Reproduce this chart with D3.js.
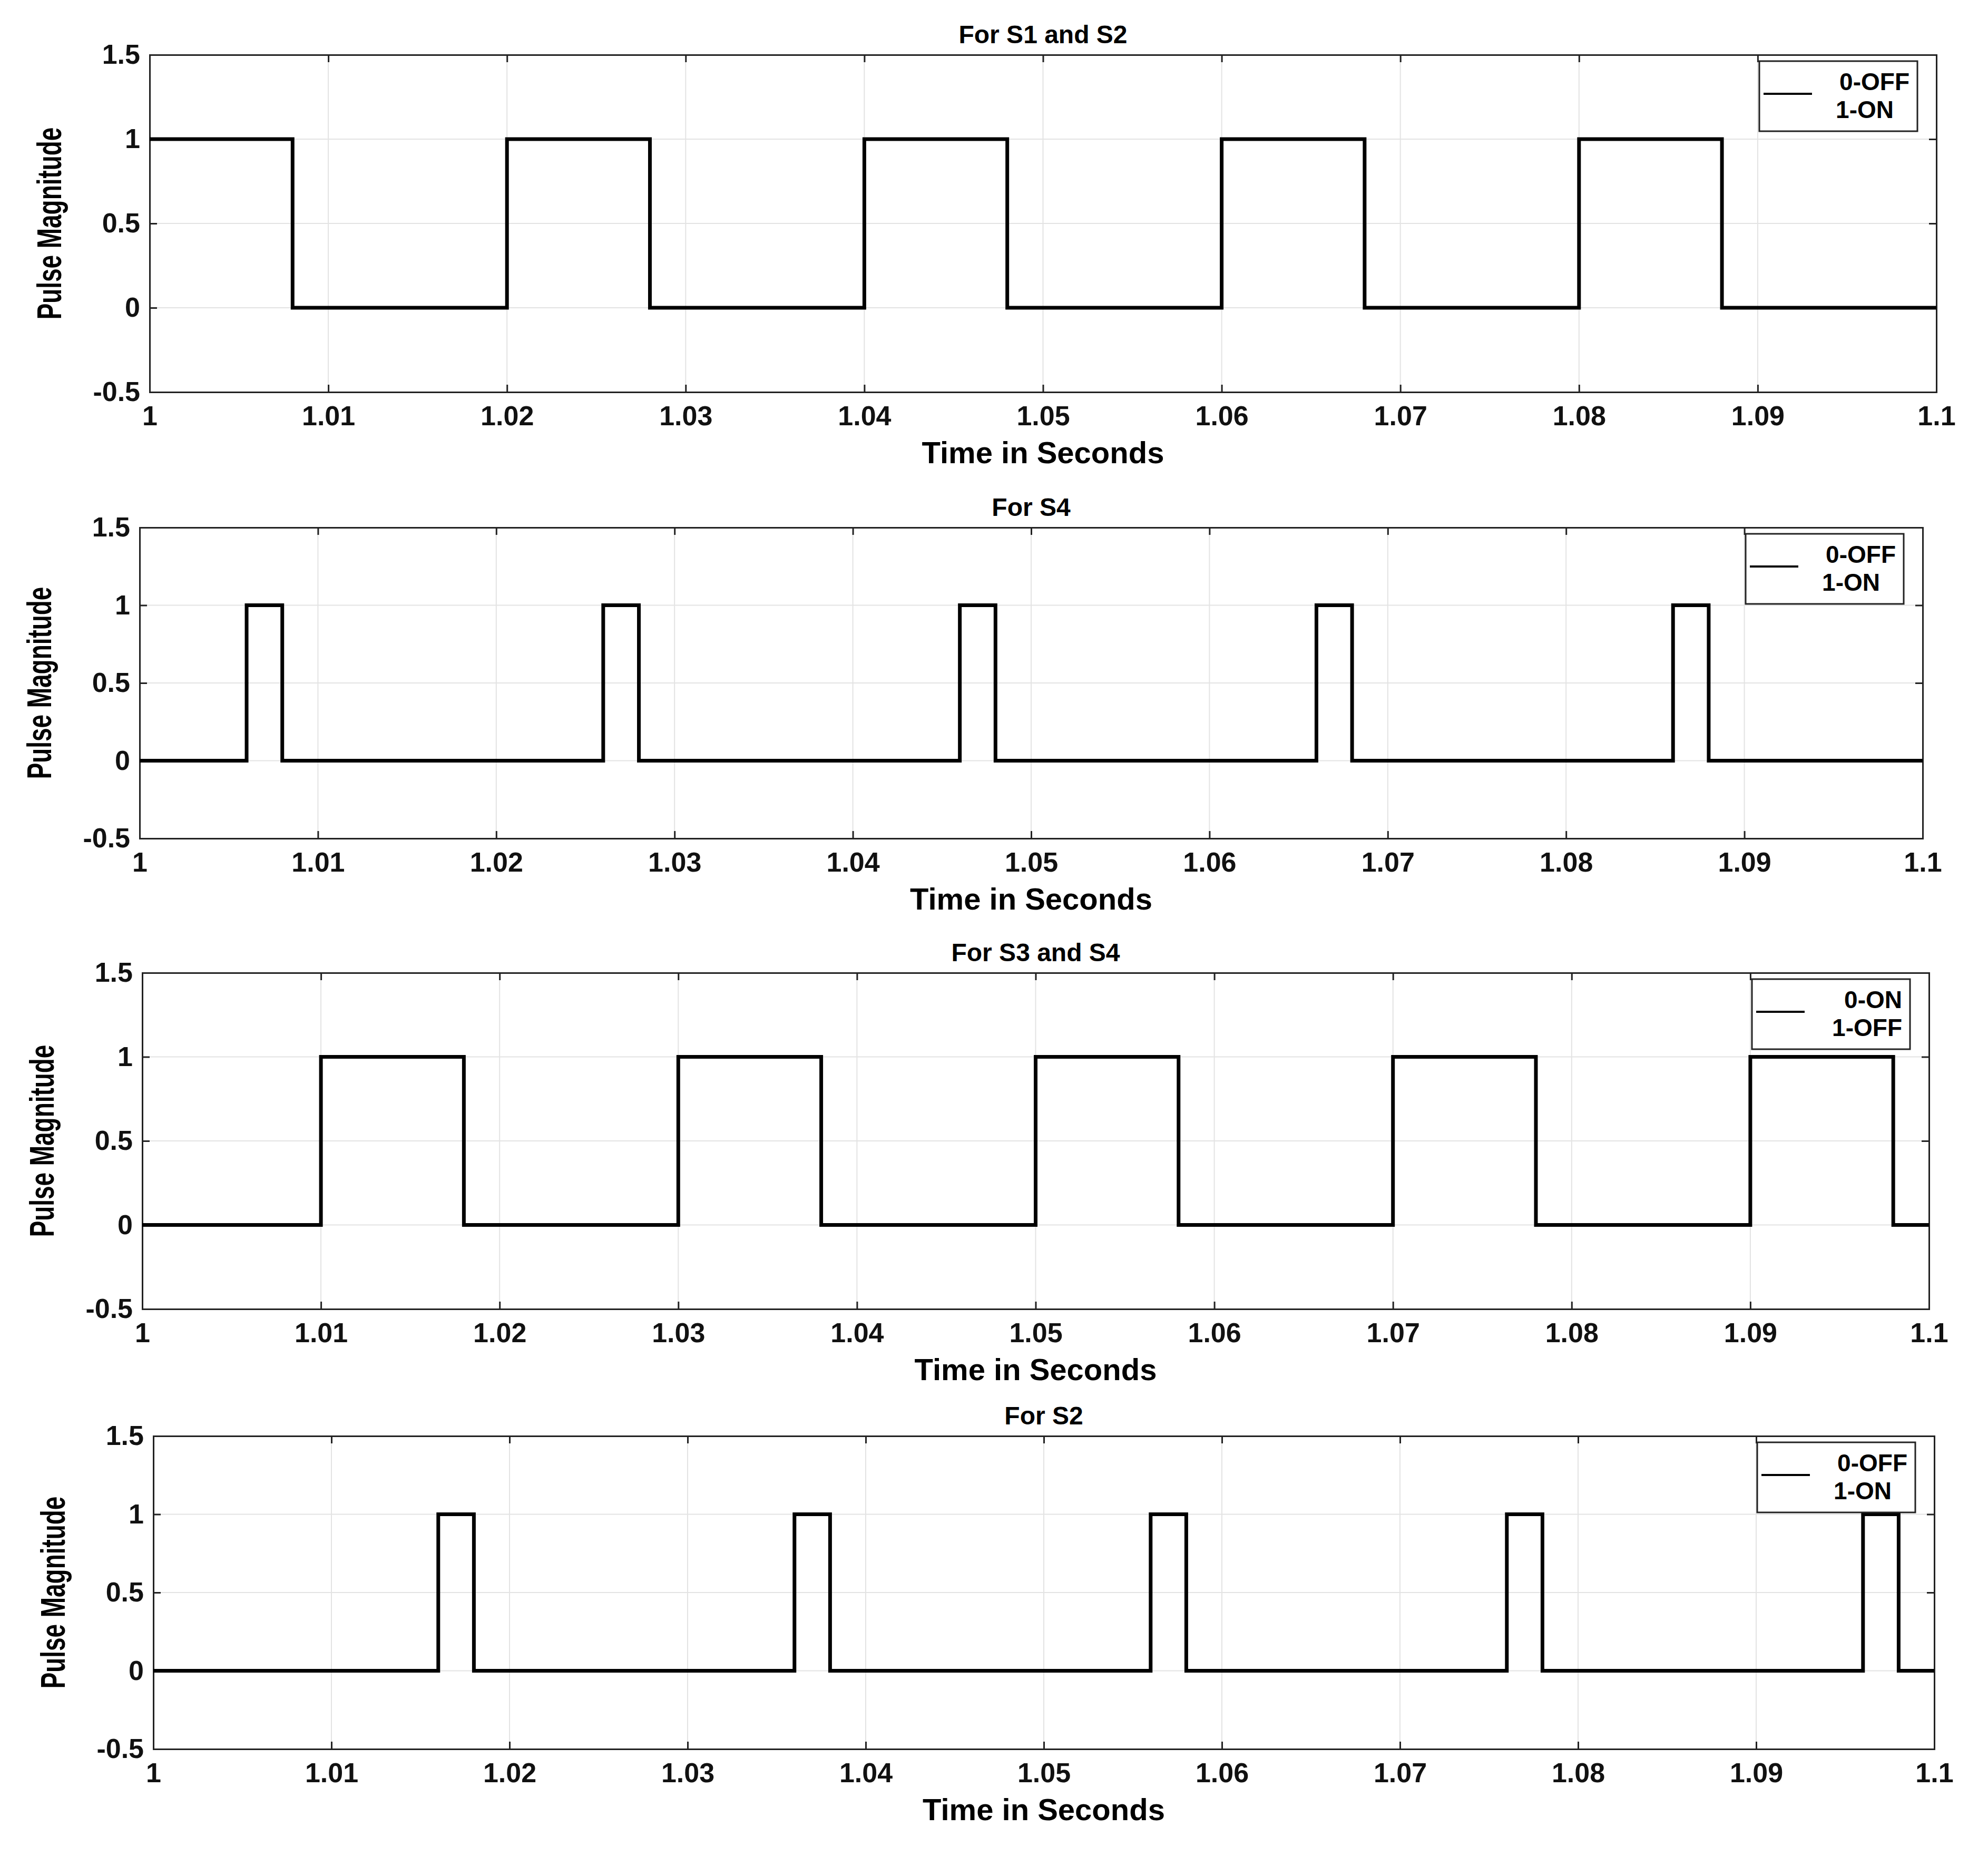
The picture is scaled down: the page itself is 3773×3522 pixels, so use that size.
<!DOCTYPE html>
<html>
<head>
<meta charset="utf-8">
<style>
  body { margin: 0; background: white; }
  svg { font-family: 'Liberation Sans', Arial, sans-serif; font-weight: bold; }
</style>
</head>
<body>
<svg width="3773" height="3522"></svg>
<script src="https://d3js.org/d3.v7.min.js"></script>
<script>
// each panel: title, on/off edge times, legend text
let titles = ["For S1 and S2", "For S4", "For S3 and S4", "For S2"]
let riseTimes = [
  [1.000, 1.020, 1.040, 1.060, 1.080],
  [1.006, 1.026, 1.046, 1.066, 1.086],
  [1.010, 1.030, 1.050, 1.070, 1.090],
  [1.016, 1.036, 1.056, 1.076, 1.096]
]
let fallTimes = [
  [1.008, 1.028, 1.048, 1.068, 1.088],
  [1.008, 1.028, 1.048, 1.068, 1.088],
  [1.018, 1.038, 1.058, 1.078, 1.098],
  [1.018, 1.038, 1.058, 1.078, 1.098]
]
let legendLines = [["0-OFF", "1-ON"], ["0-OFF", "1-ON"], ["0-ON", "1-OFF"], ["0-OFF", "1-ON"]]
let xTicks = [1, 1.01, 1.02, 1.03, 1.04, 1.05, 1.06, 1.07, 1.08, 1.09, 1.1]
let yTicks = [-0.5, 0, 0.5, 1, 1.5]

// plot boxes in pixels [left, top, right, bottom]
let boxes = [
  [284, 104, 3675, 744],
  [265, 1001, 3649, 1591],
  [270, 1846, 3661, 2484],
  [291, 2725, 3671, 3319]
]

let svg = d3.select("svg")

titles.forEach((title, i) => {
  let [l, t, r, b] = boxes[i]
  let x = d3.scaleLinear().domain([1, 1.1]).range([l, r])
  let y = d3.scaleLinear().domain([-0.5, 1.5]).range([b, t])
  let g = svg.append("g")

  // grid
  g.selectAll(".gx").data(xTicks).join("line")
    .attr("x1", d => x(d)).attr("x2", d => x(d)).attr("y1", t).attr("y2", b)
    .style("stroke", "#e3e3e3").style("stroke-width", 2)
  g.selectAll(".gy").data(yTicks).join("line")
    .attr("y1", d => y(d)).attr("y2", d => y(d)).attr("x1", l).attr("x2", r)
    .style("stroke", "#e3e3e3").style("stroke-width", 2)

  // axes
  g.append("g").attr("transform", `translate(0,${b})`)
    .call(d3.axisBottom(x).tickValues(xTicks).tickFormat(d => d3.format("")(+d.toFixed(2))).tickSize(-14).tickPadding(26))
  g.append("g").attr("transform", `translate(${l},0)`)
    .call(d3.axisLeft(y).tickValues(yTicks).tickFormat(d => d).tickSize(-14).tickPadding(18))
  g.append("g").attr("transform", `translate(0,${t})`)
    .call(d3.axisTop(x).tickValues(xTicks).tickFormat("").tickSize(-14))
  g.append("g").attr("transform", `translate(${r},0)`)
    .call(d3.axisRight(y).tickValues(yTicks).tickFormat("").tickSize(-14))
  g.selectAll(".domain, .tick line").style("stroke", "#222").style("stroke-width", 3)
  g.selectAll(".tick text").style("font-size", "52px").style("font-weight", "bold").style("fill", "#111")

  // step signal
  let pts = [[1, riseTimes[i][0] === 1 ? 1 : 0]]
  riseTimes[i].forEach((rt, k) => {
    let ft = fallTimes[i][k]
    pts.push([rt, 0], [rt, 1], [ft, 1], [ft, 0])
  })
  if (riseTimes[i][0] === 1) pts.splice(1, 1)
  pts.push([1.1, 0])
  g.append("path")
    .attr("d", d3.line().x(d => x(d[0])).y(d => y(d[1]))(pts))
    .style("fill", "none").style("stroke", "#000").style("stroke-width", 7)

  // labels
  g.append("text").attr("x", (l + r) / 2).attr("y", t - 22).attr("text-anchor", "middle")
    .style("font-size", "48px").text(title)
  g.append("text").attr("x", (l + r) / 2).attr("y", b + 135).attr("text-anchor", "middle")
    .style("font-size", "58px").text("Time in Seconds")
  g.append("text")
    .attr("transform", `translate(${l - 168},${(t + b) / 2}) rotate(-90) scale(0.85,1.2)`)
    .attr("text-anchor", "middle").style("font-size", "54px").text("Pulse Magnitude")

  // legend
  let lw = 300, lh = 133, lx = r - 36 - lw, ly = t + 12
  g.append("rect").attr("x", lx).attr("y", ly).attr("width", lw).attr("height", lh)
    .style("fill", "white").style("stroke", "#222").style("stroke-width", 3)
  g.append("line").attr("x1", lx + 8).attr("x2", lx + 100).attr("y1", ly + 62).attr("y2", ly + 62)
    .style("stroke", "#000").style("stroke-width", 4)
  g.selectAll(".leg").data(legendLines[i]).join("text")
    .attr("x", (d, k) => lx + 285 - (k === 1 && d === "1-ON" ? 30 : 0)).attr("y", (d, k) => ly + 55 + k * 53).attr("text-anchor", "end")
    .style("font-size", "46px").text(d => d)
})
</script>
</body>
</html>
